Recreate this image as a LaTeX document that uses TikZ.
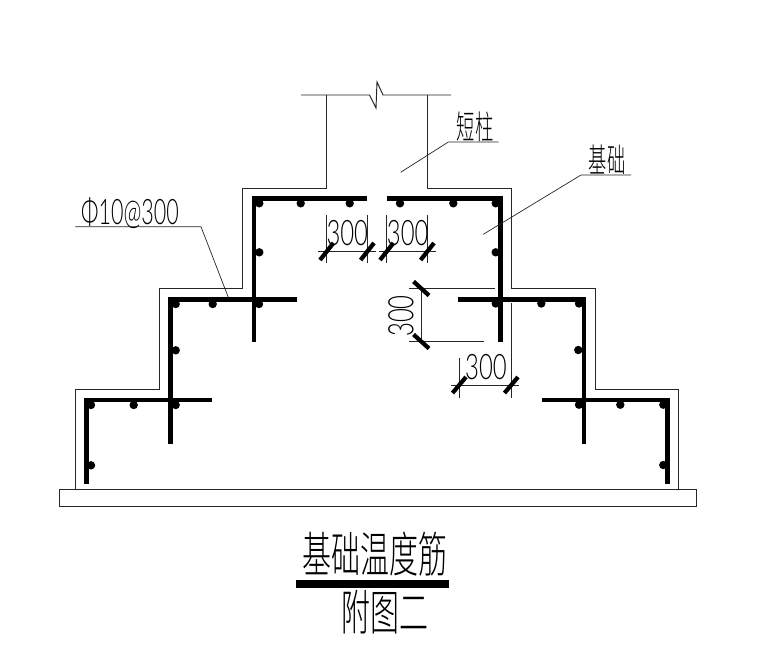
\documentclass[tikz,border=0pt]{standalone}
\usepackage{fontspec}
\newfontfamily\cjk{Noto Sans CJK SC Light}
\newfontfamily\dimfont{Lato Light}
\begin{document}
\begin{tikzpicture}[x=0.02cm,y=-0.02cm,
    outline/.style={line width=0.55pt,black!85},
    thinline/.style={line width=0.4pt,black!85},
    rebar/.style={line width=2.6pt,line join=miter},
    tick/.style={line width=2.4pt},
    rebardot/.style={fill=black,draw=none},
    dimtext/.style={font=\dimfont\fontsize{20}{20}\selectfont,inner sep=0pt,xscale=0.68,transform shape},
    labeltext/.style={font=\cjk\fontsize{13}{13}\selectfont,inner sep=0pt,xscale=0.8,yscale=1.45,transform shape},
    titletext/.style={font=\cjk\fontsize{22}{22}\selectfont,inner sep=0pt,xscale=0.75,yscale=1.25,transform shape}]
  \useasboundingbox (0,0) rectangle (776,649);
  % concrete outline
  \draw[outline] (301,95) -- (369.5,95) -- (376,108) -- (377,82) -- (383,95) -- (451,95);
  \draw[outline] (326.7,95) -- (326.7,188) -- (242.7,188) -- (242.7,288.5) -- (159,288.5)
    -- (159,389) -- (75.3,389) -- (75.3,489.3);
  \draw[outline] (427.3,95) -- (427.3,188) -- (511.3,188) -- (511.3,288.5) -- (595,288.5)
    -- (595,389) -- (678.7,389) -- (678.7,489.3);
  \draw[outline] (59,489.3) rectangle (696,506.7);
  % bars
  \draw[rebar] (367,198.7) -- (254,198.7) -- (254,341.7);
  \draw[rebar] (386.7,198.7) -- (500.4,198.7) -- (500.4,341.7);
  \draw[rebar] (296.7,299.3) -- (170.3,299.3) -- (170.3,444);
  \draw[rebar] (458.3,299.3) -- (584,299.3) -- (584,443.7);
  \draw[rebar] (212,399.8) -- (86.3,399.8) -- (86.3,484);
  \draw[rebar] (542.3,399.8) -- (667.7,399.8) -- (667.7,483.7);
  % dots
  \filldraw[rebardot] (259.3,203.3) circle (4.2);
  \filldraw[rebardot] (300.7,203.3) circle (4.2);
  \filldraw[rebardot] (349.7,203.3) circle (4.2);
  \filldraw[rebardot] (400,203.3) circle (4.2);
  \filldraw[rebardot] (453.3,203.3) circle (4.2);
  \filldraw[rebardot] (495.7,203.3) circle (4.2);
  \filldraw[rebardot] (259.3,252.3) circle (4.2);
  \filldraw[rebardot] (495.7,252.3) circle (4.2);
  \filldraw[rebardot] (175.7,304) circle (4.2);
  \filldraw[rebardot] (212.7,304) circle (4.2);
  \filldraw[rebardot] (259,304) circle (4.2);
  \filldraw[rebardot] (495.7,303.5) circle (4.2);
  \filldraw[rebardot] (541.3,303.5) circle (4.2);
  \filldraw[rebardot] (579,303.5) circle (4.2);
  \filldraw[rebardot] (175.7,350.3) circle (4.2);
  \filldraw[rebardot] (578.3,350) circle (4.2);
  \filldraw[rebardot] (91,405) circle (4.2);
  \filldraw[rebardot] (133.7,405) circle (4.2);
  \filldraw[rebardot] (175.7,405) circle (4.2);
  \filldraw[rebardot] (579,404.7) circle (4.2);
  \filldraw[rebardot] (620.3,404.7) circle (4.2);
  \filldraw[rebardot] (663.3,404.7) circle (4.2);
  \filldraw[rebardot] (91,465.3) circle (4.2);
  \filldraw[rebardot] (663.3,465) circle (4.2);
  % dimensions
  \draw[thinline] (318.3,251.3) -- (375.7,251.3);
  \draw[thinline] (326.7,215) -- (326.7,263);
  \draw[thinline] (367.3,215) -- (367.3,263);
  \draw[tick] (320,260) -- (333.4,243);
  \draw[tick] (360.6,260) -- (374,243);
  \node[dimtext] (dimtopleft) at (347.3,232.7) {300};
  \draw[thinline] (379,251.3) -- (436,251.3);
  \draw[thinline] (386.7,215) -- (386.7,263);
  \draw[thinline] (427.3,215) -- (427.3,263);
  \draw[tick] (380,260) -- (393.4,243);
  \draw[tick] (420.6,260) -- (434,243);
  \node[dimtext] (dimtopright) at (407.7,232.7) {300};
  \draw[thinline] (409,288.7) -- (495,288.7);
  \draw[thinline] (409,341.3) -- (484,341.3);
  \draw[thinline] (421,288.7) -- (421,341.3);
  \draw[tick] (413.5,281.5) -- (429,295.5);
  \draw[tick] (413.5,334.5) -- (429,348.5);
  \node[rotate=90,dimtext] (dimmid) at (401,316) {300};
  \draw[thinline] (451,385) -- (519.3,385);
  \draw[thinline] (459.3,358.3) -- (459.3,398.3);
  \draw[thinline] (511.3,303) -- (511.3,398.3);
  \draw[tick] (452.5,393) -- (466,377);
  \draw[tick] (504.5,393) -- (518,377);
  \node[dimtext] (dimlow) at (486,367.3) {300};
  % leaders and labels
  \draw[thinline] (400.7,172.3) -- (448.3,142) -- (498.7,142);
  \node[labeltext] (column) at (475,126.7) {短柱};
  \draw[thinline] (483.3,234.3) -- (581,175) -- (631,175);
  \node[labeltext] (footing) at (607,160) {基础};
  \draw[thinline] (75.3,226.7) -- (201,226.7) -- (228.3,297.3);
  \node[dimtext,xscale=0.9] (barnote) at (130,212.7) {Φ10@300};
  % title
  \node[titletext] (title) at (375,554) {基础温度筋};
  \draw[line width=4.5pt] (296,584) -- (449,584);
  \node[titletext] (subtitle) at (385,612) {附图二};
\end{tikzpicture}
\end{document}
